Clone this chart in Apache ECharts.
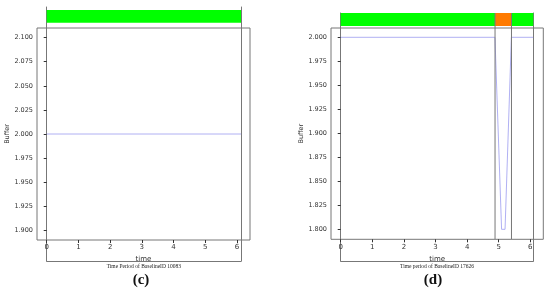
<!DOCTYPE html>
<html>
<head>
<meta charset="utf-8">
<script src="https://cdn.jsdelivr.net/npm/echarts@6/dist/echarts.min.js"></script>
<style>
  html, body { margin: 0; padding: 0; background: #fff; }
  #chart { width: 550px; height: 292px; }
</style>
</head>
<body>
<div id="chart"></div>
<script>
// 数据部分
var xTicks = [0, 1, 2, 3, 4, 5, 6]

var timeC = [0, 6.13]
var bufferC = [2, 2]
var yTicksC = [1.9, 1.925, 1.95, 1.975, 2, 2.025, 2.05, 2.075, 2.1]
var periodStartC = [0]
var periodEndC = [6.13]
var periodStateC = ['normal']

var timeD = [0, 4.88, 5.09, 5.2, 5.4, 6.09]
var bufferD = [2, 2, 1.8, 1.8, 2, 2]
var yTicksD = [1.8, 1.825, 1.85, 1.875, 1.9, 1.925, 1.95, 1.975, 2]
var periodStartD = [0, 4.88, 5.4]
var periodEndD = [4.88, 5.4, 6.09]
var periodStateD = ['normal', 'alarm', 'normal']

var stateColor = { normal: '#00ff00', alarm: '#ff7a00' }
var lineColor = '#9c9cf0'
var boxColor = '#777'

var panels = [
  {
    tag: '(c)',
    caption: 'Time Period of BaselineID 10083',
    time: timeC, buffer: bufferC, yTicks: yTicksC,
    starts: periodStartC, ends: periodEndC, states: periodStateC,
    main: { left: 37, top: 28, width: 213, height: 212 },
    yMin: 1.89, yMax: 2.11, xMin: -0.306, xMax: 6.41,
    outer: { left: 46.7, top: 7, width: 194.3, height: 254 },
    bar: { top: 10, height: 12.7 },
    lines: { top: 10, height: 230 },
    center: 141
  },
  {
    tag: '(d)',
    caption: 'Time period of BaselineID 17626',
    time: timeD, buffer: bufferD, yTicks: yTicksD,
    starts: periodStartD, ends: periodEndD, states: periodStateD,
    main: { left: 331, top: 28, width: 212.3, height: 211.3 },
    yMin: 1.7896, yMax: 2.0097, xMin: -0.307, xMax: 6.41,
    outer: { left: 340.7, top: 13, width: 192.6, height: 248 },
    bar: { top: 13, height: 13 },
    lines: { top: 13, height: 226 },
    center: 433
  }
]

var grids = [], xAxes = [], yAxes = [], series = [], texts = []

function hiddenAxis(extra) {
  var ax = {
    type: 'value',
    axisLine: { show: false },
    axisTick: { show: false },
    axisLabel: { show: false },
    splitLine: { show: false }
  }
  for (var k in extra) ax[k] = extra[k]
  return ax
}

// 加一个 grid，返回 grid / x / y 的下标
function addGrid(box, xAxis, yAxis) {
  var gi = grids.length
  grids.push(box)
  xAxis.gridIndex = gi
  yAxis.gridIndex = gi
  xAxes.push(xAxis)
  yAxes.push(yAxis)
  return { g: gi, x: xAxes.length - 1, y: yAxes.length - 1 }
}

function addPanel(p) {
  var span = p.outer.width
  var xEnd = p.ends[p.ends.length - 1]
  var spine = { show: true, onZero: false, lineStyle: { color: boxColor, width: 1 } }

  // 主图
  var m = addGrid(
    { left: p.main.left, top: p.main.top, width: p.main.width, height: p.main.height,
      show: true, borderColor: boxColor, borderWidth: 1, backgroundColor: 'transparent' },
    {
      type: 'value', min: p.xMin, max: p.xMax,
      name: 'time', nameLocation: 'middle', nameGap: 12,
      nameTextStyle: { fontFamily: 'DejaVu Sans', fontSize: 7, color: '#333' },
      axisLine: { show: false },
      axisTick: { show: true, length: 3, customValues: xTicks, lineStyle: { color: '#333' } },
      axisLabel: { customValues: xTicks, fontFamily: 'DejaVu Sans', fontSize: 7, color: '#333', margin: 4 },
      splitLine: { show: false }
    },
    {
      type: 'value', min: p.yMin, max: p.yMax,
      name: 'Buffer', nameLocation: 'middle', nameGap: 26,
      nameTextStyle: { fontFamily: 'DejaVu Sans', fontSize: 6.5, color: '#333' },
      axisLine: { show: false },
      axisTick: { show: true, length: 3, customValues: p.yTicks, lineStyle: { color: '#333' } },
      axisLabel: {
        customValues: p.yTicks, fontFamily: 'DejaVu Sans', fontSize: 6.5, color: '#333', margin: 4,
        formatter: function (v) { return v.toFixed(3) }
      },
      splitLine: { show: false }
    })
  series.push({
    type: 'line', xAxisIndex: m.x, yAxisIndex: m.y, symbol: 'none', z: 3,
    lineStyle: { color: lineColor, width: 0.8 },
    data: p.time.map(function (t, i) { return [t, p.buffer[i]] })
  })

  // 外框（时间段）：左、下、右三边
  var o = addGrid(
    { left: p.outer.left, top: p.outer.top, width: span, height: p.outer.height },
    hiddenAxis({
      min: 0, max: xEnd, axisLine: spine,
      name: p.caption, nameLocation: 'middle', nameGap: 3,
      nameTextStyle: { fontFamily: 'Liberation Serif', fontSize: 5.5, color: '#222' }
    }),
    hiddenAxis({ min: 0, max: 1, axisLine: spine }))
  yAxes.push(hiddenAxis({ gridIndex: o.g, min: 0, max: 1, position: 'right', axisLine: spine }))

  // 状态条
  var b = addGrid(
    { left: p.outer.left, top: p.bar.top, width: span, height: p.bar.height },
    hiddenAxis({ min: 0, max: xEnd }),
    hiddenAxis({ min: 0, max: 1 }))
  series.push({
    type: 'custom', xAxisIndex: b.x, yAxisIndex: b.y, z: 4,
    data: p.starts.map(function (s, i) { return [s, p.ends[i], i] }),
    renderItem: function (params, api) {
      var a = api.coord([api.value(0), 1])
      var c = api.coord([api.value(1), 0])
      return {
        type: 'rect',
        shape: { x: a[0], y: a[1], width: c[0] - a[0], height: c[1] - a[1] },
        style: { fill: stateColor[p.states[api.value(2)]] }
      }
    }
  })

  // 时间段分隔线
  var l = addGrid(
    { left: p.outer.left, top: p.lines.top, width: span, height: p.lines.height },
    hiddenAxis({ min: 0, max: xEnd }),
    hiddenAxis({ min: 0, max: 1 }))
  if (p.starts.length > 1) {
    series.push({
      type: 'custom', xAxisIndex: l.x, yAxisIndex: l.y, z: 5,
      data: p.starts.slice(1).map(function (s) { return [s] }),
      renderItem: function (params, api) {
        var a = api.coord([api.value(0), 1])
        var c = api.coord([api.value(0), 0])
        return {
          type: 'line',
          shape: { x1: a[0], y1: a[1], x2: c[0], y2: c[1] },
          style: { stroke: boxColor, lineWidth: 1 }
        }
      }
    })
  }

  texts.push({
    type: 'text', x: p.center, y: 273,
    style: { text: p.tag, font: 'bold 15px "Liberation Serif"', fill: '#111', textAlign: 'center' }
  })
}

panels.forEach(addPanel)

var myChart = echarts.init(document.getElementById('chart'))
myChart.setOption({
  animation: false,
  grid: grids,
  xAxis: xAxes,
  yAxis: yAxes,
  series: series,
  graphic: texts
})
</script>
</body>
</html>
